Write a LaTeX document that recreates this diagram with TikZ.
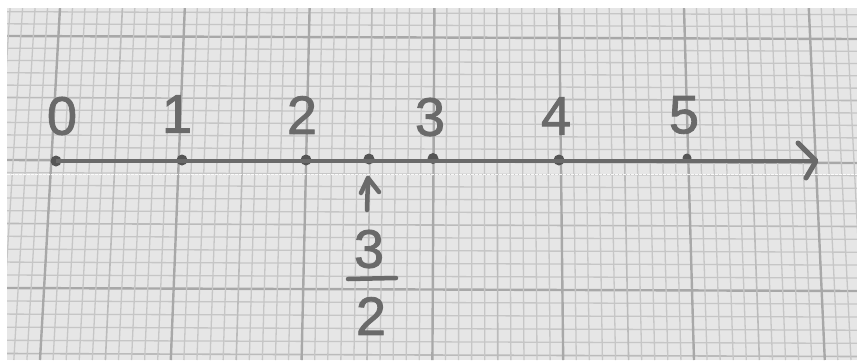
\documentclass[tikz,border=0pt]{standalone}
\usepackage{fontspec}
\setmainfont{Liberation Sans}
\begin{document}
\begin{tikzpicture}[x=1pt,y=-1pt,
  minorline/.style={draw=gridminor,line width=1.3pt},
  midline/.style={draw=gridmid,line width=1.6pt},
  majorline/.style={draw=gridmajor,line width=2.4pt},
  ink/.style={draw=inkgray,line width=4.5pt,line cap=round,line join=round},
  numlabel/.style={text=inkgray,font=\fontsize{54}{56}\selectfont\addfontfeature{FakeBold=1.6},inner sep=0pt,anchor=center},
  tickdot/.style={circle,fill=dotgray,inner sep=0pt,minimum size=11pt}]
\definecolor{paper}{HTML}{E6E6E6}
\definecolor{gridminor}{HTML}{C6C6C6}
\definecolor{gridmid}{HTML}{BBBBBB}
\definecolor{gridmajor}{HTML}{A8A8A8}
\definecolor{inkgray}{HTML}{6A6A6A}
\definecolor{dotgray}{HTML}{555555}
\useasboundingbox (0,0) rectangle (857,360);
\fill[white] (0,0) rectangle (857,360);
\fill[paper] (7,8) rectangle (857,360);
\begin{scope}
  \clip (7,8) rectangle (857,360);
  % horizontal grid lines
  \foreach \j in {-3,...,27}{
    \pgfmathsetmacro{\yy}{36+12.2*\j+0.02*\j*\j}
    \pgfmathtruncatemacro{\mj}{mod(\j+30,10)}
    \pgfmathtruncatemacro{\mf}{mod(\j+30,5)}
    \ifnum\mj=0
      \path[majorline] (7,\yy) -- (857,\yy+3);
    \else\ifnum\mf=0
      \path[midline] (7,\yy) -- (857,\yy+3);
    \else
      \path[minorline] (7,\yy) -- (857,\yy+3);
    \fi\fi
  }
  % vertical grid lines
  \foreach \i in {-5,...,65}{
    \pgfmathsetmacro{\xt}{60+12.48*\i}
    \pgfmathsetmacro{\xb}{40+13.08*\i}
    \pgfmathtruncatemacro{\mi}{mod(\i+50,10)}
    \pgfmathtruncatemacro{\mf}{mod(\i+50,5)}
    \ifnum\mi=0
      \path[majorline] (\xt,8) -- (\xb,360);
    \else\ifnum\mf=0
      \path[midline] (\xt,8) -- (\xb,360);
    \else
      \path[minorline] (\xt,8) -- (\xb,360);
    \fi\fi
  }
  % perforation / fold line
  \draw[white,line width=1.2pt,dash pattern=on 2.5pt off 1.5pt,opacity=0.9] (7,174.5) -- (857,174.5);
\end{scope}

% axis points
\node[tickdot] (p0) at (56,161) {};
\node[tickdot] (p1) at (182,160) {};
\node[tickdot] (p2) at (306,160) {};
\node[tickdot] (ph) at (369,159) {};
\node[tickdot] (p3) at (433,158.5) {};
\node[tickdot] (p4) at (559,160) {};
\node[tickdot,minimum size=9pt] (p5) at (687,158) {};
\coordinate (tip) at (816,161);
\coordinate (headA) at (798,143);
\coordinate (headB) at (806,178);

% axis
\draw[draw=inkgray,line width=3.6pt] (p0.center) -- (tip);
\draw[ink,line width=5pt] (headA) -- (tip) -- (headB);

% labels
\node[numlabel] (l0) at (62,116) {0};
\node[numlabel] (l1) at (177,114) {1};
\node[numlabel] (l2) at (302,115) {2};
\node[numlabel] (l3) at (430,117) {3};
\node[numlabel] (l4) at (556,116) {4};
\node[numlabel] (l5) at (684,115) {5};

% arrow under the point
\coordinate (upTail) at (367,210);
\coordinate (upTip) at (368,178);
\coordinate (upL) at (361,193);
\coordinate (upR) at (379,192);
\draw[ink] (upTail) -- (upTip);
\draw[ink] (upL) -- (upTip) -- (upR);

% fraction 3/2
\node[numlabel] (fnum) at (369,249) {3};
\node[numlabel] (fden) at (371,316) {2};
\coordinate (barL) at (348,279);
\coordinate (barR) at (396,278);
\draw[ink] (barL) -- (barR);
\end{tikzpicture}
\end{document}
